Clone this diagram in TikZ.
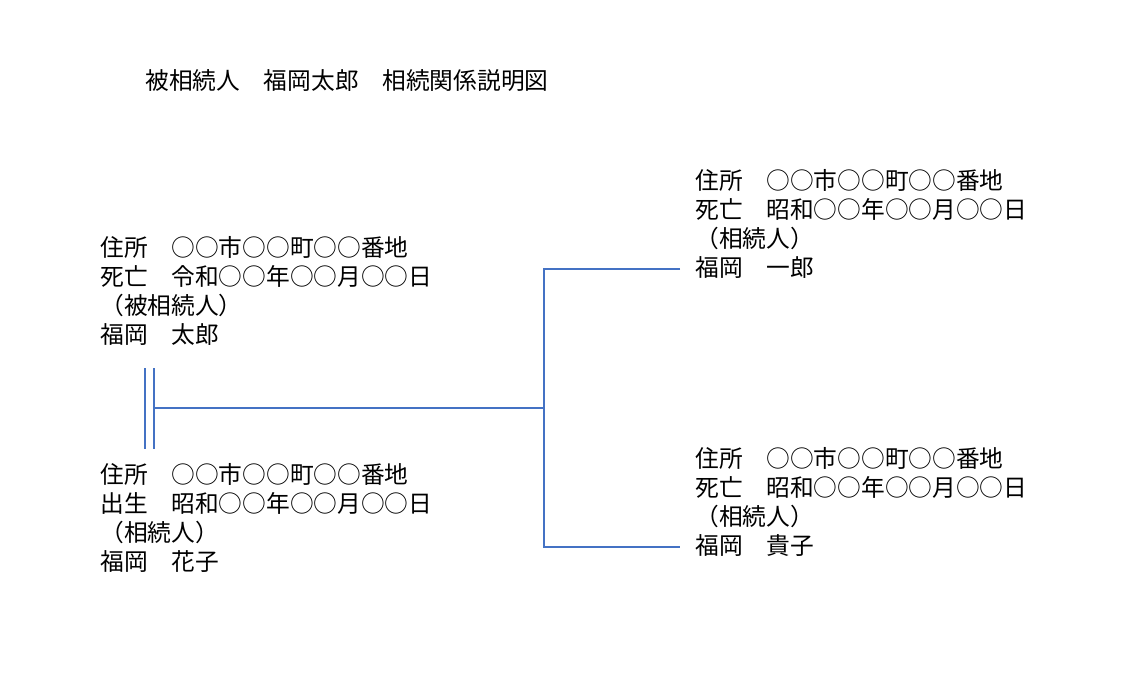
\documentclass[tikz,border=0pt]{standalone}
\usepackage{fontspec}
\setmainfont{Noto Sans CJK JP}
\usepackage{xcolor}
\definecolor{lineblue}{HTML}{4472C4}
\newcommand{\Px}{0.02}

\begin{document}
\begin{tikzpicture}[x=\Px cm,y=-\Px cm,
  info/.style={anchor=north west,inner sep=0pt,align=left,
    font=\fontsize{13.5pt}{16.6pt}\selectfont},
  link/.style={draw=lineblue,line width=1.4pt}]
\useasboundingbox (0,0) rectangle (1136,677);
\node[info,anchor=west] (title) at (145,81) {被相続人　福岡太郎　相続関係説明図};

\node[info] (taro) at (100,236) {住所　○○市○○町○○番地\\死亡　令和○○年○○月○○日\\（被相続人）\\福岡　太郎};
\node[info] (hanako) at (100,463) {住所　○○市○○町○○番地\\出生　昭和○○年○○月○○日\\（相続人）\\福岡　花子};
\node[info] (ichiro) at (695,169) {住所　○○市○○町○○番地\\死亡　昭和○○年○○月○○日\\（相続人）\\福岡　一郎};
\node[info] (takako) at (695,447) {住所　○○市○○町○○番地\\死亡　昭和○○年○○月○○日\\（相続人）\\福岡　貴子};

\coordinate (M1) at (145,368);
\coordinate (M2) at (145,449);
\coordinate (M3) at (154,368);
\coordinate (M4) at (154,449);
\coordinate (J) at (544,408);
\coordinate (JL) at (154,408);
\coordinate (JT) at (544,269);
\coordinate (JB) at (544,547);
\coordinate (ET) at (680,269);
\coordinate (EB) at (680,547);

% marriage
\draw[link] (M1) -- (M2);
\draw[link] (M3) -- (M4);
% children
\draw[link] (JL) -- (J);
\draw[link] (ET) -- (JT) -- (JB) -- (EB);
\end{tikzpicture}
\end{document}
